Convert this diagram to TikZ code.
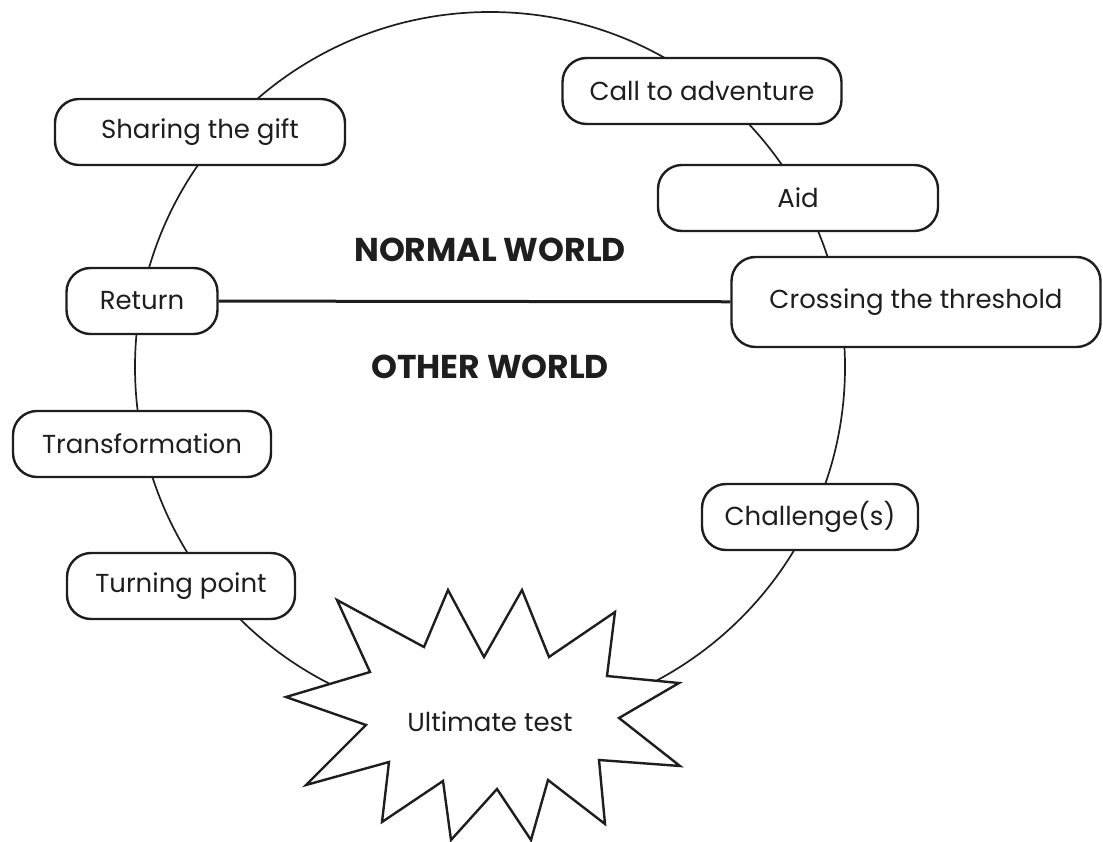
\documentclass[tikz,border=0pt]{standalone}
\usepackage{fontspec}
\setmainfont{Poppins}
\usetikzlibrary{positioning}
\definecolor{ink}{RGB}{30,30,30}

\begin{document}
\begin{tikzpicture}[x=1pt,y=-1pt,
    stage/.style={draw=ink,fill=white,line width=2.4pt,rounded corners=24pt,
      minimum height=66pt,font=\fontsize{26}{30}\selectfont,text=ink},
    world/.style={font=\fontsize{33}{38}\selectfont\bfseries,text=ink}]
  \useasboundingbox (0,0) rectangle (1103,842);
  % the journey circle
  \draw[ink,line width=1.7pt] (490,367) circle[radius=355];
  % threshold between the two worlds
  \node[stage,minimum width=151pt] (return) at (142,301) {Return};
  \node[stage,minimum width=369pt,minimum height=90pt] (crossing) at (916,302) {Crossing the threshold};
  \draw[ink,line width=3pt] (return) -- (crossing);
  \node[world] (normal) at (490,250) {NORMAL WORLD};
  \node[world] (other) at (490,367) {OTHER WORLD};
  % stages round the circle
  \node[stage,minimum width=290pt] (sharing) at (200,132) {Sharing the gift};
  \node[stage,minimum width=279pt] (call) at (702,91) {Call to adventure};
  \node[stage,minimum width=280pt] (aid) at (798,198) {Aid};
  \node[stage,minimum width=258pt] (transform) at (142,444) {Transformation};
  \node[stage,minimum width=216pt] (challenge) at (810,517) {Challenge(s)};
  \node[stage,minimum width=228pt] (turning) at (181,586) {Turning point};
  % the burst
  \draw[ink,fill=white,line width=2.4pt,line join=miter]
    (337,600) -- (424,647) -- (448,590) -- (484,657) -- (522,590) -- (549,657)
    -- (615,612) -- (607,676) -- (679,683) -- (619,718) -- (680,766) -- (599,760)
    -- (605,824) -- (548,780) -- (531,840) -- (497,789) -- (451,840) -- (443,781)
    -- (382,822) -- (389,762) -- (306,785) -- (366,725) -- (286,697) -- (370,672)
    -- cycle;
  \node[font=\fontsize{26}{30}\selectfont,text=ink] (test) at (490,722) {Ultimate test};
\end{tikzpicture}
\end{document}
